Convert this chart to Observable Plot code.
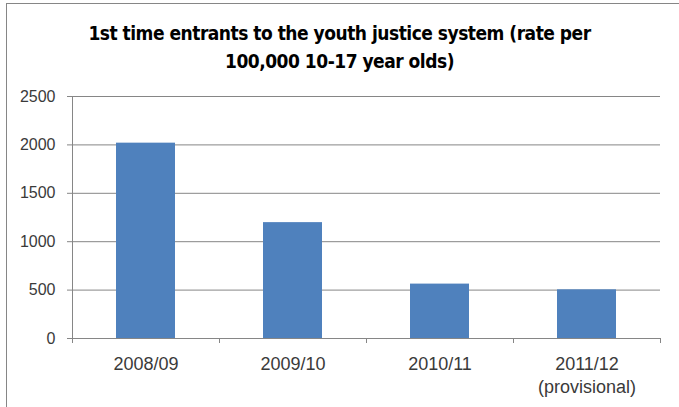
<!DOCTYPE html>
<html>
<head>
<meta charset="utf-8">
<script src="https://cdn.jsdelivr.net/npm/d3@7"></script>
<script src="https://cdn.jsdelivr.net/npm/@observablehq/plot@0.6"></script>
<style>
  html, body { margin: 0; padding: 0; background: #fff; overflow: hidden; }
  #wrap { position: relative; width: 679px; height: 407px; overflow: hidden; background: #fff; }
  #frame { position: absolute; left: 6px; top: 3px; width: 800px; height: 800px; border: 1px solid #868686; box-sizing: border-box; }
  #title { position: relative; height: 80px; box-sizing: border-box; padding-top: 19px; text-align: center;
           font-family: "Liberation Sans Narrow", "DejaVu Sans Condensed", "Liberation Sans", sans-serif;
           font-stretch: condensed; font-weight: bold; font-size: 19px; letter-spacing: -0.5px; line-height: 28px; color: #000; }
  #chart { position: relative; }
</style>
</head>
<body>
<div id="wrap">
  <div id="frame"></div>
  <div id="title">1st time entrants to the youth justice system (rate per<br>100,000 10-17 year olds)</div>
  <div id="chart"></div>
</div>
<script>
const categories = ["2008/09", "2009/10", "2010/11", "2011/12\n(provisional)"];
const values = [2018, 1197, 562, 503];
const yTicks = [0, 500, 1000, 1500, 2000, 2500];
const boundaryTicks = [0, 1, 2, 3, 4];

const data = categories.map((c, i) => ({category: c, index: i, value: values[i]}));

const gridColor = "#868686";
const textColor = "#3a3a3a";

const plot = Plot.plot({
  width: 679,
  height: 327,
  marginTop: 16,
  marginBottom: 69,
  marginLeft: 72,
  marginRight: 19,
  style: {fontFamily: "'Liberation Sans', Arial, sans-serif", background: "transparent"},
  x: {type: "linear", domain: [0, categories.length], axis: null},
  y: {domain: [0, 2500], axis: null},
  marks: [
    Plot.gridY(yTicks, {stroke: gridColor, strokeOpacity: 1, strokeWidth: 1}),
    Plot.rectY(data, {
      x1: d => d.index, x2: d => d.index + 1, y: "value",
      fill: "#4f81bd", insetLeft: 44, insetRight: 44
    }),
    Plot.ruleX([0], {stroke: gridColor}),
    Plot.ruleY([0], {stroke: gridColor}),
    Plot.axisY(yTicks, {
      tickSize: 5, tickPadding: 12, stroke: gridColor, strokeOpacity: 1,
      tickFormat: d => String(d),
      fill: textColor, fontSize: 16, label: null
    }),
    Plot.axisX(boundaryTicks, {
      tickSize: 5, stroke: gridColor, strokeOpacity: 1,
      tickFormat: () => "", label: null
    }),
    Plot.text(data, {
      x: d => d.index + 0.5, y: () => 0, text: "category",
      lineAnchor: "top", dy: 15, lineHeight: 1.28,
      fill: textColor, fontSize: 18
    })
  ]
});
document.getElementById("chart").appendChild(plot);
</script>
</body>
</html>
